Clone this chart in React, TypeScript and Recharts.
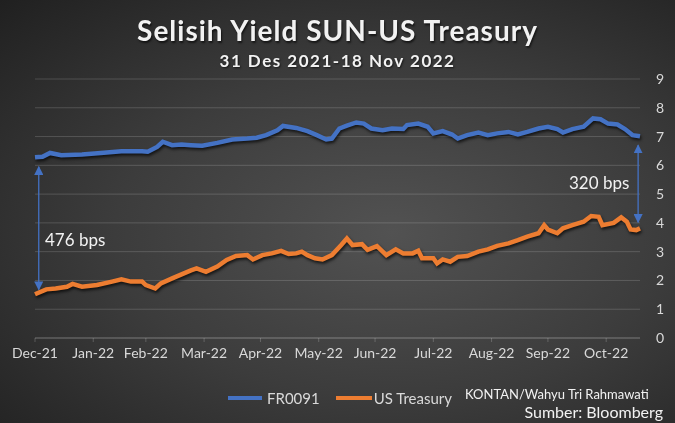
import { LineChart, Line, XAxis, YAxis, CartesianGrid, ReferenceLine } from 'recharts';

// days since 31 Dec 2021
const monthTicks = [0, 31, 59, 90, 120, 151, 181, 212, 243, 273, 304];
const monthLabels = ['Dec-21', 'Jan-22', 'Feb-22', 'Mar-22', 'Apr-22', 'May-22', 'Jun-22', 'Jul-22', 'Aug-22', 'Sep-22', 'Oct-22'];
const yTicks = [0, 1, 2, 3, 4, 5, 6, 7, 8, 9];

const frDays = [0, 4, 8, 14, 25, 35, 46, 57, 60, 65, 68, 73, 78, 83, 89, 97, 105, 113, 118, 123, 129, 132, 139, 145, 150, 155, 158, 162, 166, 171, 175, 179, 185, 190, 196, 198, 204, 209, 212, 217, 222, 225, 230, 236, 241, 246, 252, 257, 262, 268, 273, 278, 281, 286, 292, 297, 301, 305, 310, 314, 318, 322];
const frValues = [6.28, 6.3, 6.43, 6.35, 6.38, 6.43, 6.49, 6.49, 6.47, 6.64, 6.82, 6.7, 6.72, 6.7, 6.68, 6.78, 6.9, 6.93, 6.96, 7.05, 7.22, 7.37, 7.3, 7.19, 7.05, 6.9, 6.93, 7.28, 7.38, 7.49, 7.45, 7.28, 7.22, 7.28, 7.26, 7.4, 7.45, 7.34, 7.11, 7.19, 7.07, 6.93, 7.05, 7.14, 7.05, 7.11, 7.16, 7.07, 7.16, 7.28, 7.34, 7.26, 7.14, 7.26, 7.34, 7.63, 7.6, 7.45, 7.42, 7.26, 7.05, 7.01];

const usDays = [0, 6, 11, 17, 20, 25, 33, 41, 46, 51, 57, 59, 64, 67, 73, 78, 83, 86, 91, 97, 102, 107, 113, 116, 121, 126, 131, 135, 139, 142, 145, 149, 153, 158, 163, 166, 169, 174, 177, 182, 187, 192, 196, 201, 204, 206, 212, 214, 217, 221, 225, 230, 236, 241, 246, 252, 257, 262, 268, 271, 273, 278, 281, 286, 292, 296, 300, 302, 308, 312, 315, 317, 320, 322];
const usValues = [1.52, 1.69, 1.72, 1.78, 1.88, 1.78, 1.84, 1.96, 2.04, 1.96, 1.96, 1.84, 1.72, 1.9, 2.07, 2.21, 2.35, 2.42, 2.3, 2.48, 2.71, 2.85, 2.88, 2.73, 2.88, 2.94, 3.03, 2.92, 2.94, 3.0, 2.88, 2.77, 2.73, 2.88, 3.23, 3.46, 3.23, 3.26, 3.06, 3.19, 2.88, 3.08, 2.94, 2.94, 3.03, 2.77, 2.77, 2.59, 2.73, 2.65, 2.82, 2.85, 3.0, 3.08, 3.2, 3.29, 3.4, 3.52, 3.64, 3.92, 3.77, 3.64, 3.81, 3.92, 4.04, 4.24, 4.21, 3.92, 4.0, 4.19, 4.04, 3.77, 3.75, 3.81];

const frData = frDays.map((d, i) => ({ day: d, value: frValues[i] }));
const usData = usDays.map((d, i) => ({ day: d, value: usValues[i] }));

const BLUE = '#4472C4';
const ORANGE = '#ED7D31';
const FONT = 'Lato, "Open Sans", sans-serif';
const shadow = { filter: 'drop-shadow(1px 2px 1.5px rgba(0,0,0,0.7))' };

const arrowLine = (props: any) => {
  const { x1, y1, x2, y2 } = props;
  return (
    <line x1={x1} y1={y1} x2={x2} y2={y2} stroke={BLUE} strokeWidth={1.3}
      markerStart="url(#arrowHead)" markerEnd="url(#arrowHead)" />
  );
};

export default function App() {
  return (
    <div style={{
      position: 'fixed', left: 0, top: 0, width: 675, height: 423, fontFamily: FONT,
      background: 'radial-gradient(ellipse at 58% 55%, #525252 0%, #3c3c3c 50%, #202020 100%)',
    }}>
      <div style={{ position: 'absolute', top: 13, width: 675, textAlign: 'center', color: '#f2f2f2', fontSize: 28, fontWeight: 700, letterSpacing: 1, textShadow: '1px 2px 2px rgba(0,0,0,0.6)' }}>
        Selisih Yield SUN-US Treasury
      </div>
      <div style={{ position: 'absolute', top: 50, width: 675, textAlign: 'center', color: '#f2f2f2', fontSize: 17, fontWeight: 700, letterSpacing: 1.5, textShadow: '1px 1px 2px rgba(0,0,0,0.6)' }}>
        31 Des 2021-18 Nov 2022
      </div>

      <LineChart width={675} height={423} data={frData}
        margin={{ top: 79, right: 5, bottom: 55, left: 35 }}
        style={{ position: 'absolute', left: 0, top: 0 }}>
        <defs>
          <marker id="arrowHead" viewBox="0 0 10 10" refX="9" refY="5" markerWidth="7" markerHeight="7" orient="auto-start-reverse">
            <path d="M0,0 L10,5 L0,10 z" fill={BLUE} />
          </marker>
        </defs>
        <CartesianGrid vertical={false} stroke="rgba(255,255,255,0.16)" />
        <XAxis dataKey="day" type="number" domain={[0, 322]} ticks={monthTicks}
          tickFormatter={(v: number) => monthLabels[monthTicks.indexOf(v)]}
          axisLine={{ stroke: 'rgba(255,255,255,0.2)' }}
          tickLine={{ stroke: 'rgba(255,255,255,0.2)' }} tickSize={4} tickMargin={6}
          tick={{ fill: '#d9d9d9', fontSize: 14 }} interval={0} allowDuplicatedCategory={false} />
        <YAxis orientation="right" domain={[0, 9]} ticks={yTicks} width={30}
          axisLine={false} tickLine={false} tickMargin={10}
          tick={{ fill: '#d9d9d9', fontSize: 14 }} />
        <ReferenceLine segment={[{ x: 2, y: 1.68 }, { x: 2, y: 5.95 }]} shape={arrowLine} />
        <ReferenceLine segment={[{ x: 321, y: 4.02 }, { x: 321, y: 6.7 }]} shape={arrowLine} />
        <Line data={frData} dataKey="value" name="FR0091" stroke={BLUE} strokeWidth={4.5}
          dot={false} isAnimationActive={false} style={shadow} />
        <Line data={usData} dataKey="value" name="US Treasury" stroke={ORANGE} strokeWidth={4.5}
          dot={false} isAnimationActive={false} style={shadow} />
      </LineChart>

      <div style={{ position: 'absolute', left: 45, top: 229, color: '#f2f2f2', fontSize: 17 }}>476 bps</div>
      <div style={{ position: 'absolute', left: 569, top: 172, color: '#f2f2f2', fontSize: 17 }}>320 bps</div>

      <div style={{ position: 'absolute', left: 228, top: 389, display: 'flex', alignItems: 'center', color: '#d9d9d9', fontSize: 15 }}>
        <span style={{ width: 34, height: 4, background: BLUE, display: 'inline-block', marginRight: 5 }} />
        <span style={{ marginRight: 16 }}>FR0091</span>
        <span style={{ width: 36, height: 4, background: ORANGE, display: 'inline-block', marginRight: 2 }} />
        <span>US Treasury</span>
      </div>
      <div style={{ position: 'absolute', left: 465, top: 386, color: '#f2f2f2', fontSize: 13 }}>KONTAN/Wahyu Tri Rahmawati</div>
      <div style={{ position: 'absolute', right: 12, top: 402, color: '#f2f2f2', fontSize: 16 }}>Sumber: Bloomberg</div>
    </div>
  );
}
